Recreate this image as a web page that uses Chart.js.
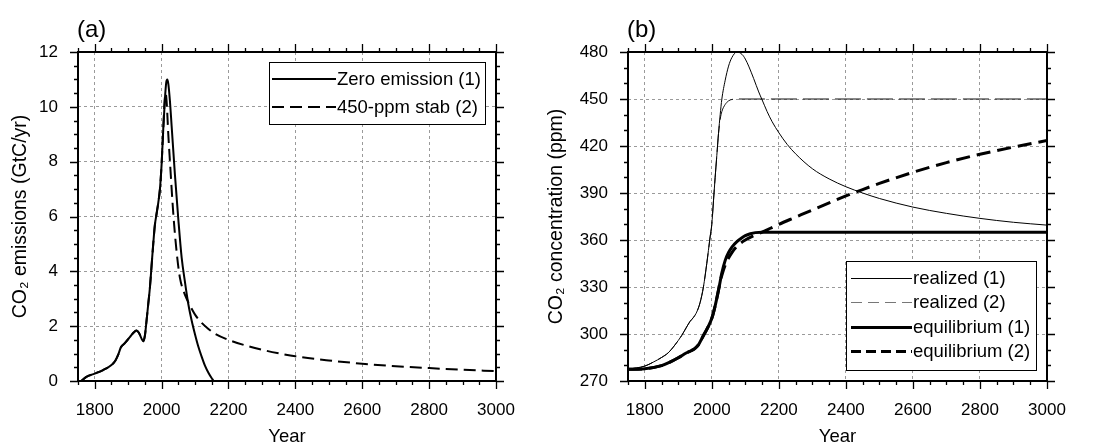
<!DOCTYPE html>
<html>
<head>
<meta charset="utf-8">
<script src="https://cdn.jsdelivr.net/npm/chart.js@4.4.0/dist/chart.umd.min.js"></script>
<style>
  html, body { margin: 0; padding: 0; background: #fff; }
  #wrap { position: relative; width: 1094px; height: 445px; overflow: hidden; }
  canvas { position: absolute; top: 0; }
</style>
</head>
<body>
<div id="wrap">
  <canvas id="graficoA" width="547" height="445" style="left:0"></canvas>
  <canvas id="graficoB" width="547" height="445" style="left:547px"></canvas>
</div>
<script>
const FONT = '"Liberation Sans", Arial, Helvetica, sans-serif';

// tick labels
const yearTicks = [1800, 2000, 2200, 2400, 2600, 2800, 3000];
const emisTicks = [0, 2, 4, 6, 8, 10, 12];
const concTicks = [270, 300, 330, 360, 390, 420, 450, 480];

// (a) emisiones - tramo comun (historico)
const histYears = [1760, 1775, 1800, 1825, 1850, 1862, 1870, 1878, 1890, 1905, 1915, 1925, 1932, 1938, 1945, 1950, 1955, 1960, 1965, 1970, 1975, 1980, 1985, 1990, 1995, 2000, 2005];
const histEmis  = [0, 0.15, 0.27, 0.4, 0.58, 0.75, 0.95, 1.22, 1.38, 1.6, 1.75, 1.84, 1.76, 1.6, 1.45, 1.65, 2.2, 2.8, 3.4, 4.2, 5.0, 5.7, 6.1, 6.5, 7.0, 7.9, 9.2];

// Zero emission (1)
const zeroYears = [2010, 2014, 2017, 2020, 2025, 2030, 2040, 2050, 2060, 2070, 2080, 2090, 2100, 2110, 2120, 2130, 2140, 2150, 2157, 2200, 3000];
const zeroEmis  = [10.3, 10.9, 11.0, 10.85, 10.2, 9.3, 7.5, 5.9, 4.5, 3.6, 2.8, 2.2, 1.7, 1.25, 0.88, 0.55, 0.3, 0.1, 0, 0, 0];

// 450-ppm stab (2)
const stabYears = [2009, 2012, 2015, 2020, 2025, 2035, 2045, 2055, 2065, 2075, 2085, 2100, 2120, 2140, 2160, 2200, 2250, 2300, 2350, 2400, 2500, 2600, 2700, 2800, 2900, 3000];
const stabEmis  = [10.2, 10.5, 10.2, 9.0, 8.0, 6.1, 4.7, 3.75, 3.3, 3.0, 2.75, 2.42, 2.12, 1.9, 1.72, 1.5, 1.3, 1.14, 1.01, 0.9, 0.75, 0.63, 0.54, 0.47, 0.41, 0.36];

// (b) concentracion realizada - tramo comun
const realHistYears = [1750, 1800, 1825, 1850, 1870, 1890, 1910, 1925, 1935, 1945, 1955, 1965, 1975, 1985, 1995, 2000, 2005, 2010, 2015, 2020];
const realHistConc  = [277.5, 279.5, 282, 285, 288, 293, 299, 304.5, 308, 310.5, 314, 320, 330, 345, 362, 370, 385, 400, 414, 428];

const real1Years = [2025, 2030, 2040, 2050, 2060, 2075, 2090, 2100, 2110, 2125, 2140, 2150, 2165, 2180, 2200, 2225, 2250, 2300, 2350, 2400, 2450, 2500, 2600, 2700, 2800, 2900, 3000];
const real1Conc  = [440, 450, 462, 471, 476.5, 480, 478.5, 475.5, 471, 463, 454.5, 449.5, 442, 435.5, 428.5, 421, 415, 405.5, 399, 394, 390, 386.5, 381, 377, 373.8, 371.3, 369.5];

const real2Years = [2025, 2030, 2040, 2050, 2060, 2075, 3000];
const real2Conc  = [437, 442, 446.5, 448.8, 449.7, 450, 450];

// equilibrio - tramo comun
const eqHistYears = [1750, 1800, 1850, 1875, 1900, 1925, 1940, 1950, 1960, 1970, 1980, 1990, 2000, 2010, 2020, 2025];
const eqHistConc  = [277.5, 277.8, 279.8, 282, 284.8, 288, 289.5, 290.8, 293, 297, 301, 305, 310, 318, 328, 333.5];

const eq1Years = [2030, 2040, 2050, 2060, 2075, 2090, 2100, 2115, 2130, 2150, 3000];
const eq1Conc  = [339, 347, 352, 355.5, 359, 361.5, 362.8, 364, 364.7, 364.9, 364.9];

const eq2Years = [2030, 2040, 2050, 2060, 2075, 2100, 2125, 2150, 2175, 2200, 2250, 2300, 2350, 2400, 2450, 2500, 2600, 2700, 2800, 2900, 3000];
const eq2Conc  = [337.5, 344, 348.5, 352, 356, 360, 362.8, 365, 367.5, 370, 374.6, 379.2, 383.7, 388.1, 392.2, 396.1, 403.2, 409.4, 414.7, 419.3, 423.5];

function puntos(xs, ys) {
    return xs.map((x, i) => ({ x: x, y: ys[i] }));
}

// marco, ticks mayores y menores hacia fuera en los cuatro lados
function marco(xMajor, yMajor, xMinorStep, yMinorStep) {
    return {
        id: 'marco',
        afterDraw(chart) {
            const { ctx, chartArea: a, scales } = chart;
            const x = scales.x, y = scales.y;
            ctx.save();
            ctx.strokeStyle = '#000';
            ctx.lineWidth = 1.3;
            ctx.beginPath();
            const nx = Math.round((x.max - x.min) / xMinorStep);
            for (let i = 0; i <= nx; i++) {
                const v = x.min + i * xMinorStep;
                const px = Math.round(x.getPixelForValue(v)) + 0.5;
                const len = xMajor.includes(v) ? 8 : 4;
                ctx.moveTo(px, a.bottom); ctx.lineTo(px, a.bottom + len);
                ctx.moveTo(px, a.top); ctx.lineTo(px, a.top - len);
            }
            const ny = Math.round((y.max - y.min) / yMinorStep);
            for (let i = 0; i <= ny; i++) {
                const v = y.min + i * yMinorStep;
                const py = Math.round(y.getPixelForValue(v)) + 0.5;
                const len = yMajor.includes(v) ? 8 : 4;
                ctx.moveTo(a.left, py); ctx.lineTo(a.left - len, py);
                ctx.moveTo(a.right, py); ctx.lineTo(a.right + len, py);
            }
            ctx.stroke();
            ctx.lineWidth = 2;
            ctx.strokeRect(a.left, a.top, a.right - a.left, a.bottom - a.top);
            ctx.restore();
        }
    };
}

function etiqueta(texto) {
    return {
        id: 'etiqueta',
        afterDraw(chart) {
            const { ctx, chartArea: a } = chart;
            ctx.save();
            ctx.font = '24px ' + FONT;
            ctx.fillStyle = '#000';
            ctx.textAlign = 'left';
            ctx.textBaseline = 'middle';
            ctx.fillText(texto, a.left - 1, 30);
            ctx.restore();
        }
    };
}

function leyenda(o) {
    return {
        id: 'leyenda',
        afterDraw(chart) {
            const { ctx, chartArea: a } = chart;
            const items = chart.data.datasets;
            ctx.save();
            ctx.font = o.size + 'px ' + FONT;
            const textW = Math.max(...items.map(d => ctx.measureText(d.label).width));
            const w = o.padL + o.sample + 1 + textW + o.padR;
            const right = a.right - o.inset;
            const left = Math.round(right - w);
            const top = o.abajo ? a.bottom - o.inset - o.h : a.top + o.insetTop;
            ctx.fillStyle = '#fff';
            ctx.fillRect(left, top, right - left, o.h);
            ctx.strokeStyle = '#000';
            ctx.lineWidth = 1;
            ctx.strokeRect(left + 0.5, top + 0.5, right - left, o.h);
            items.forEach((d, i) => {
                const yy = Math.round(top + o.first + i * o.rowH);
                const off = d.borderWidth % 2 === 1 ? 0.5 : 0;
                ctx.beginPath();
                ctx.setLineDash(d.legendDash || d.borderDash || []);
                ctx.lineWidth = d.borderWidth;
                ctx.strokeStyle = d.legendColor || d.borderColor;
                ctx.moveTo(left + o.padL, yy + off);
                ctx.lineTo(left + o.padL + o.sample, yy + off);
                ctx.stroke();
                ctx.setLineDash([]);
                ctx.fillStyle = '#000';
                ctx.textAlign = 'left';
                ctx.textBaseline = 'middle';
                ctx.fillText(d.label, left + o.padL + o.sample + 1, yy + 1);
            });
            ctx.restore();
        }
    };
}

function ejes(yTicks, yMin, yMax, yTitle, yWidth, yTitlePad) {
    const fuente = { family: FONT, size: 17 };
    return {
        x: {
            type: 'linear', min: 1750, max: 3000,
            afterBuildTicks: s => { s.ticks = yearTicks.map(v => ({ value: v })); },
            afterFit: s => { s.height = 64; },
            grid: { color: '#9a9a9a', lineWidth: 1, drawTicks: false },
            border: { display: false, dash: [3, 3] },
            ticks: { padding: 19, font: fuente, color: '#000', maxRotation: 0, autoSkip: false, callback: v => String(v) },
            title: { display: true, text: 'Year', font: { family: FONT, size: 18.5, lineHeight: 0.9 }, color: '#000', padding: { top: 0, bottom: 0 } }
        },
        y: {
            type: 'linear', min: yMin, max: yMax,
            afterBuildTicks: s => { s.ticks = yTicks.map(v => ({ value: v })); },
            afterFit: s => { s.width = yWidth; },
            grid: { color: '#9a9a9a', lineWidth: 1, drawTicks: false },
            border: { display: false, dash: [3, 3] },
            ticks: { padding: 20, font: fuente, color: '#000', callback: v => String(v) },
            title: { display: true, text: yTitle, font: { family: FONT, size: 19.5, lineHeight: 1 }, color: '#000', padding: { top: yTitlePad, bottom: 0 } }
        }
    };
}

const base = {
    responsive: false,
    animation: false,
    devicePixelRatio: 1,
    plugins: { legend: { display: false }, tooltip: { enabled: false } },
    elements: { point: { radius: 0 }, line: { cubicInterpolationMode: 'monotone' } }
};

// Grafico (a): emisiones
new Chart(document.getElementById('graficoA').getContext('2d'), {
    type: 'line',
    data: {
        datasets: [{
            label: 'Zero emission (1)',
            data: puntos(histYears.concat(zeroYears), histEmis.concat(zeroEmis)),
            borderColor: '#000',
            borderWidth: 2,
            fill: false
        }, {
            label: '450-ppm stab (2)',
            data: puntos(histYears.concat(stabYears), histEmis.concat(stabEmis)),
            borderColor: '#000',
            borderWidth: 2,
            borderDash: [12, 6],
            fill: false
        }]
    },
    options: Object.assign({}, base, {
        layout: { padding: { left: 0, right: 51, top: 52, bottom: 0 } },
        scales: ejes(emisTicks, 0, 12, 'CO\u2082 emissions (GtC/yr)', 78, 11)
    }),
    plugins: [marco(yearTicks, emisTicks, 50, 0.5), etiqueta('(a)'),
        leyenda({ size: 18.5, padL: 3, padR: 4, sample: 64, inset: 11, insetTop: 10, h: 62, first: 17, rowH: 28 })]
});

// Grafico (b): concentracion
new Chart(document.getElementById('graficoB').getContext('2d'), {
    type: 'line',
    data: {
        datasets: [{
            label: 'realized (1)',
            data: puntos(realHistYears.concat(real1Years), realHistConc.concat(real1Conc)),
            borderColor: '#000',
            borderWidth: 1,
            fill: false
        }, {
            label: 'realized (2)',
            data: puntos(realHistYears.concat(real2Years), realHistConc.concat(real2Conc)),
            borderColor: '#111',
            legendColor: '#777',
            borderWidth: 1,
            borderDash: [26, 6],
            legendDash: [11, 6],
            fill: false
        }, {
            label: 'equilibrium (1)',
            data: puntos(eqHistYears.concat(eq1Years), eqHistConc.concat(eq1Conc)),
            borderColor: '#000',
            borderWidth: 3,
            fill: false
        }, {
            label: 'equilibrium (2)',
            data: puntos(eqHistYears.concat(eq2Years), eqHistConc.concat(eq2Conc)),
            borderColor: '#000',
            borderWidth: 3,
            borderDash: [14, 7],
            legendDash: [10, 5],
            fill: false
        }]
    },
    options: Object.assign({}, base, {
        layout: { padding: { left: 0, right: 47, top: 52, bottom: 0 } },
        scales: ejes(concTicks, 270, 480, 'CO\u2082 concentration (ppm)', 81, 0)
    }),
    plugins: [marco(yearTicks, concTicks, 50, 10), etiqueta('(b)'),
        leyenda({ size: 18.5, padL: 5, padR: 6, sample: 61, inset: 11, abajo: true, h: 109, first: 17, rowH: 24.3 })]
});
</script>
</body>
</html>
